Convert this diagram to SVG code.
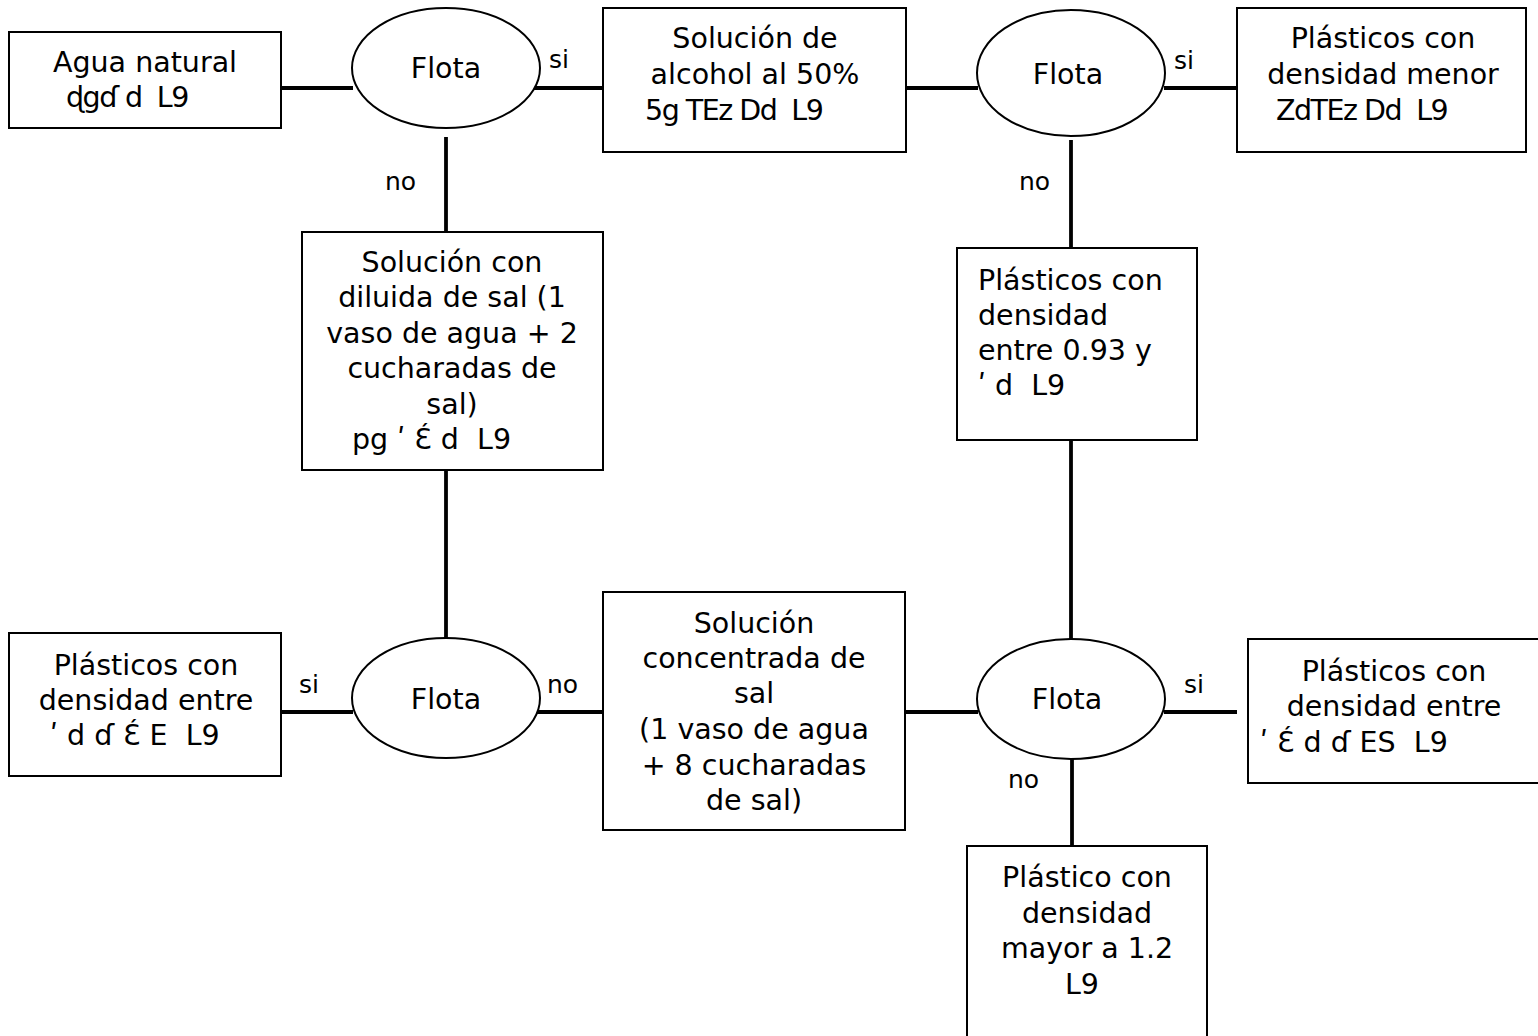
<svg xmlns="http://www.w3.org/2000/svg" width="1538" height="1036" viewBox="0 0 1538 1036">
<style>
.box{fill:#fff;stroke:#000;stroke-width:2}
.ell{fill:#fff;stroke:#000;stroke-width:2}
.t{font-family:"DejaVu Sans",Verdana,sans-serif;font-size:28.5px;fill:#000;white-space:pre}
.g{letter-spacing:-1.5px}
.c{text-anchor:middle}
.lbl{font-family:"DejaVu Sans",Verdana,sans-serif;font-size:25px;fill:#000}
.con line{stroke:#000;stroke-width:3.8}
</style>
<rect width="1538" height="1036" fill="#fff"/>
<g class="con" id="connectors">
<line x1="281" y1="88" x2="353" y2="88"/>
<line x1="532" y1="88" x2="603" y2="88"/>
<line x1="906" y1="88" x2="978" y2="88"/>
<line x1="1164" y1="88" x2="1237" y2="88"/>
<line x1="446" y1="137" x2="446" y2="232"/>
<line x1="446" y1="470" x2="446" y2="639"/>
<line x1="281" y1="712" x2="353" y2="712"/>
<line x1="532" y1="712" x2="603" y2="712"/>
<line x1="906" y1="712" x2="978" y2="712"/>
<line x1="1164" y1="712" x2="1237" y2="712"/>
<line x1="1071" y1="140" x2="1071" y2="248"/>
<line x1="1071" y1="440" x2="1071" y2="639"/>
<line x1="1072" y1="759" x2="1072" y2="853"/>
</g>
<g id="labels">
<text class="lbl" x="549" y="68">si</text>
<text class="lbl" x="1174" y="69">si</text>
<text class="lbl" x="385" y="190">no</text>
<text class="lbl" x="1019" y="190">no</text>
<text class="lbl" x="299" y="693">si</text>
<text class="lbl" x="547" y="693">no</text>
<text class="lbl" x="1184" y="693">si</text>
<text class="lbl" x="1008" y="788">no</text>
</g>
<g id="n-agua">
<rect class="box" x="9" y="32" width="272" height="96"/>
<text class="t c" x="145" y="72">Agua natural</text>
<text class="t g" x="66" y="107" xml:space="preserve">ɖgɗ d  L9</text>
</g>
<g id="n-flota1">
<ellipse class="ell" cx="446" cy="68" rx="94" ry="60"/>
<text class="t c" x="446" y="78">Flota</text>
</g>
<g id="n-alcohol">
<rect class="box" x="603" y="8" width="303" height="144"/>
<text class="t c" x="755" y="48">Solución de</text>
<text class="t c" x="755" y="84">alcohol al 50%</text>
<text class="t g" x="645" y="120" xml:space="preserve">5g TEz Dd  L9</text>
</g>
<g id="n-flota2">
<ellipse class="ell" cx="1071" cy="73" rx="94" ry="63"/>
<text class="t c" x="1068" y="84">Flota</text>
</g>
<g id="n-menor">
<rect class="box" x="1237" y="8" width="289" height="144"/>
<text class="t c" x="1383" y="48">Plásticos con</text>
<text class="t c" x="1383" y="84">densidad menor</text>
<text class="t g" x="1276" y="120" xml:space="preserve">ZdTEz Dd  L9</text>
</g>
<g id="n-diluida">
<rect class="box" x="302" y="232" width="301" height="238"/>
<text class="t c" x="452" y="272">Solución con</text>
<text class="t c" x="452" y="307">diluida de sal (1</text>
<text class="t c" x="452" y="343">vaso de agua + 2</text>
<text class="t c" x="452" y="378">cucharadas de</text>
<text class="t c" x="452" y="414">sal)</text>
<text class="t" x="352" y="449" xml:space="preserve">pg ʹ Ɛ́ d  L9</text>
</g>
<g id="n-entre093">
<rect class="box" x="957" y="248" width="240" height="192"/>
<text class="t" x="978" y="290">Plásticos con</text>
<text class="t" x="978" y="325">densidad</text>
<text class="t" x="978" y="360">entre 0.93 y</text>
<text class="t" x="978" y="395" xml:space="preserve">ʹ d  L9</text>
</g>
<g id="n-entre-left">
<rect class="box" x="9" y="633" width="272" height="143"/>
<text class="t c" x="146" y="675">Plásticos con</text>
<text class="t c" x="146" y="710">densidad entre</text>
<text class="t" x="50" y="745" xml:space="preserve">ʹ d ɗ Ɛ́ E  L9</text>
</g>
<g id="n-flota3">
<ellipse class="ell" cx="446" cy="698" rx="94" ry="60"/>
<text class="t c" x="446" y="709">Flota</text>
</g>
<g id="n-concentrada">
<rect class="box" x="603" y="592" width="302" height="238"/>
<text class="t c" x="754" y="633">Solución</text>
<text class="t c" x="754" y="668">concentrada de</text>
<text class="t c" x="754" y="703">sal</text>
<text class="t c" x="754" y="739">(1 vaso de agua</text>
<text class="t c" x="754" y="775">+ 8 cucharadas</text>
<text class="t c" x="754" y="810">de sal)</text>
</g>
<g id="n-flota4">
<ellipse class="ell" cx="1071" cy="699" rx="94" ry="60"/>
<text class="t c" x="1067" y="709">Flota</text>
</g>
<g id="n-entre-right">
<rect class="box" x="1248" y="639" width="300" height="144"/>
<text class="t c" x="1394" y="681">Plásticos con</text>
<text class="t c" x="1394" y="716">densidad entre</text>
<text class="t" x="1260" y="752" xml:space="preserve">ʹ Ɛ́ d ɗ ES  L9</text>
</g>
<g id="n-mayor">
<rect class="box" x="967" y="846" width="240" height="200"/>
<text class="t c" x="1087" y="887">Plástico con</text>
<text class="t c" x="1087" y="923">densidad</text>
<text class="t c" x="1087" y="958">mayor a 1.2</text>
<text class="t c" x="1082" y="994">L9</text>
</g>
</svg>
